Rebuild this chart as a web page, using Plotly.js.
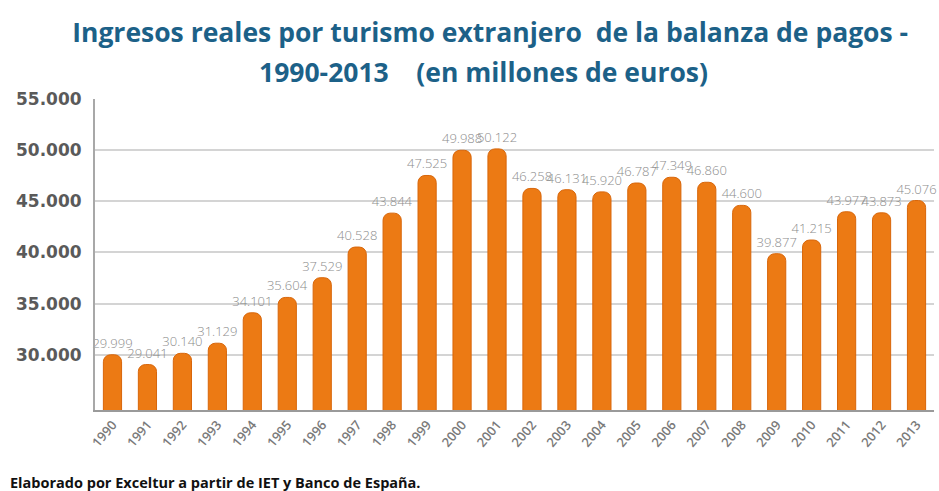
<!DOCTYPE html>
<html>
<head>
<meta charset="utf-8">
<script src="https://cdn.plot.ly/plotly-3.0.1.min.js"></script>
<style>html,body{margin:0;padding:0;background:#fff;}#chart{width:939px;height:491px;}</style>
</head>
<body>
<div id="chart"></div>
<script>
const years = ["1990","1991","1992","1993","1994","1995","1996","1997","1998","1999","2000","2001","2002","2003","2004","2005","2006","2007","2008","2009","2010","2011","2012","2013"];
const ingresos = [29999,29041,30140,31129,34101,35604,37529,40528,43844,47525,49988,50122,46258,46131,45920,46787,47349,46860,44600,39877,41215,43977,43873,45076];
const yTickVals = [30000,35000,40000,45000,50000,55000];
const yTickText = ["30.000","35.000","40.000","45.000","50.000","55.000"];
const titleLine1 = "Ingresos reales por turismo extranjero  de la balanza de pagos -";
const titleLine2 = "1990-2013    (en millones de euros)";
const sourceText = "Elaborado por Exceltur a partir de IET y Banco de España.";

function fmt(v){ return String(v).replace(/\B(?=(\d{3})+(?!\d))/g, "."); }

const titleFont = {family: "Open Sans, sans-serif", size: 26.5, color: "#1C6188", weight: 700};

const trace = {
  type: "bar",
  x: years,
  y: ingresos,
  text: ingresos.map(fmt),
  textposition: "outside",
  constraintext: "none",
  cliponaxis: false,
  textfont: {family: "Open Sans, sans-serif", size: 13, color: "#8c8c8c", weight: 300},
  marker: {color: "#EC7A14", line: {color: "#D8660A", width: 1}, cornerradius: 7},
  width: 0.52,
  hoverinfo: "x+y"
};

const layout = {
  width: 939, height: 491,
  margin: {l: 95, r: 5, t: 99, b: 81},
  paper_bgcolor: "#ffffff", plot_bgcolor: "#ffffff",
  showlegend: false,
  title: {
    text: titleLine1,
    x: 0.522, xanchor: "center",
    y: 0.933, yanchor: "middle", yref: "container",
    font: titleFont
  },
  xaxis: {
    type: "category",
    tickangle: -50,
    tickfont: {family: "Open Sans, sans-serif", size: 13, color: "#7a7a7a", weight: 600},
    showline: true, linecolor: "#9a9a9a", linewidth: 2,
    ticks: "", showgrid: false
  },
  yaxis: {
    range: [24600, 55000],
    tickvals: yTickVals, ticktext: yTickText,
    tickfont: {family: "DejaVu Sans, sans-serif", size: 17, color: "#5a5a5a", weight: 700},
    showgrid: true, gridcolor: "#d4d4d4", gridwidth: 2,
    showline: true, linecolor: "#a8a8a8", linewidth: 2,
    ticks: "", ticklabelstandoff: 8, zeroline: false
  },
  annotations: [{
    text: titleLine2,
    xref: "paper", yref: "paper",
    x: 0.463, y: 1.087, xanchor: "center", yanchor: "middle",
    showarrow: false,
    font: titleFont
  }, {
    text: "<b>" + sourceText + "</b>",
    xref: "paper", yref: "paper",
    x: -0.1037, y: -0.2347, xanchor: "left", yanchor: "middle",
    showarrow: false,
    font: {family: "Open Sans, sans-serif", size: 14.5, color: "#111111"}
  }]
};

Plotly.newPlot("chart", [trace], layout, {displayModeBar: false, staticPlot: true});
</script>
</body>
</html>
